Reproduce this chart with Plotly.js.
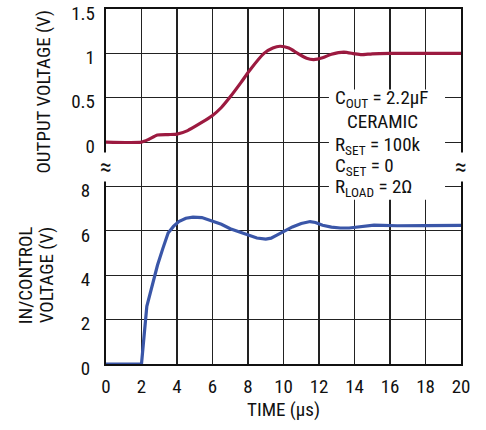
<!DOCTYPE html>
<html><head><meta charset="utf-8">
<script src="https://cdn.plot.ly/plotly-3.0.1.min.js"></script>
<style>html,body{margin:0;padding:0;background:#fff}</style>
</head><body><div id="chart" style="width:486px;height:430px"></div>
<script>
// Output voltage (top panel), time in µs
const outTime = [0, 2, 2.4, 2.9, 3.5, 4.0, 4.6, 5.3, 6.0, 6.5, 7.0, 7.6, 8.1, 8.9, 9.4, 9.8, 10.3, 10.8, 11.3, 11.7, 12.2, 12.7, 13.4, 14.0, 14.4, 15.0, 16, 17, 18, 19, 20];
const outVolt = [0, 0, 0.03, 0.08, 0.085, 0.09, 0.13, 0.21, 0.30, 0.39, 0.51, 0.67, 0.81, 1.0, 1.06, 1.08, 1.06, 1.0, 0.945, 0.93, 0.95, 0.99, 1.015, 0.995, 0.985, 0.995, 1.0, 1.0, 1.0, 1.0, 1.0];
// IN/CONTROL voltage (bottom panel)
const inTime = [0, 2.0, 2.3, 2.6, 2.9, 3.2, 3.5, 3.8, 4.1, 4.5, 4.9, 5.4, 6.0, 6.5, 7.0, 7.5, 8.0, 8.5, 9.0, 9.3, 9.6, 10.0, 10.5, 11.0, 11.5, 11.8, 12.2, 12.7, 13.2, 13.7, 14.1, 14.6, 15.1, 15.6, 16.4, 18, 20];
const inVolt = [0, 0, 2.6, 3.6, 4.45, 5.2, 5.9, 6.2, 6.42, 6.57, 6.62, 6.6, 6.45, 6.3, 6.1, 5.95, 5.8, 5.68, 5.63, 5.67, 5.8, 5.98, 6.18, 6.33, 6.42, 6.38, 6.25, 6.17, 6.13, 6.13, 6.16, 6.22, 6.26, 6.25, 6.23, 6.24, 6.25];
const xTicks = [0, 2, 4, 6, 8, 10, 12, 14, 16, 18, 20];
const outTicks = [0, 0.5, 1, 1.5];
const inTicks = [0, 2, 4, 6, 8];
const noteLines = ["C<sub>OUT</sub> = 2.2µF", "CERAMIC", "R<sub>SET</sub> = 100k", "C<sub>SET</sub> = 0", "R<sub>LOAD</sub> = 2Ω"];

const FONT = "'Liberation Sans Narrow', 'Roboto Condensed', 'DejaVu Sans Condensed', Arial, sans-serif";
const txt = {family: FONT, size: 19, color: '#111'};

const traces = [
  {x: inTime, y: inVolt, type: 'scatter', mode: 'lines', yaxis: 'y',
   line: {color: '#3A56A8', width: 3.2, shape: 'linear'}, hoverinfo: 'skip'},
  {x: outTime, y: outVolt, type: 'scatter', mode: 'lines', yaxis: 'y2',
   line: {color: '#9C1A40', width: 3.2, shape: 'spline', smoothing: 0.6}, hoverinfo: 'skip'}
];

// note positions in data units (x, bottom-axis y)
const noteX = [12.79, 15.58, 12.79, 12.79, 12.79];
const noteY = [11.95, 10.92, 9.85, 8.9, 7.95];
const noteAnchor = ['left', 'center', 'left', 'left', 'left'];

const annotations = noteLines.map((t, i) => ({
  xref: 'x', yref: 'y', x: noteX[i], y: noteY[i], text: t, showarrow: false,
  xanchor: noteAnchor[i], yanchor: 'middle', font: txt
}));
annotations.push(
  {xref: 'paper', yref: 'y', x: 0, y: 8.9, text: '≈', showarrow: false, xanchor: 'center', yanchor: 'middle',
   font: {family: FONT, size: 24, color: '#111'}, bgcolor: '#fff', borderpad: 0},
  {xref: 'paper', yref: 'y', x: 1, y: 8.9, text: '≈', showarrow: false, xanchor: 'center', yanchor: 'middle',
   font: {family: FONT, size: 24, color: '#111'}, bgcolor: '#fff', borderpad: 0},
  {xref: 'paper', yref: 'paper', x: -0.175, y: 0.767, text: 'OUTPUT VOLTAGE (V)', xanchor: 'center', yanchor: 'middle',
   textangle: -90, showarrow: false, font: txt},
  {xref: 'paper', yref: 'paper', x: -0.228, y: 0.25, text: 'IN/CONTROL', xanchor: 'center', yanchor: 'middle',
   textangle: -90, showarrow: false, font: txt},
  {xref: 'paper', yref: 'paper', x: -0.169, y: 0.25, text: 'VOLTAGE (V)', xanchor: 'center', yanchor: 'middle',
   textangle: -90, showarrow: false, font: txt}
);

const layout = {
  width: 486, height: 430,
  margin: {l: 106, r: 25, t: 9, b: 66},
  paper_bgcolor: '#fff', plot_bgcolor: '#fff',
  showlegend: false,
  font: txt,
  xaxis: {range: [0, 20], tickvals: xTicks, ticktext: xTicks.map(String),
    showgrid: true, gridcolor: '#222', gridwidth: 1.2, zeroline: false,
    showline: true, mirror: true, linecolor: '#111', linewidth: 2,
    ticks: '', ticklabelstandoff: 4, tickfont: txt, ticklabeloverflow: 'allow',
    title: {text: 'TIME (µs)', font: txt, standoff: 6}},
  yaxis: {range: [0, 16], tickvals: inTicks, ticktext: inTicks.map(String),
    showgrid: true, gridcolor: '#222', gridwidth: 1.2, zeroline: false,
    showline: true, mirror: true, linecolor: '#111', linewidth: 2,
    ticks: '', ticklabelstandoff: 10, ticklabelshift: 4, tickfont: txt, ticklabeloverflow: 'allow'},
  yaxis2: {range: [-2.5, 1.5], overlaying: 'y', side: 'left',
    tickvals: outTicks, ticktext: outTicks.map(String),
    showgrid: true, gridcolor: '#222', gridwidth: 1.2, zeroline: false,
    showline: false, ticks: '', ticklabelstandoff: 10, ticklabelshift: 4, tickfont: txt, ticklabeloverflow: 'allow'},
  shapes: [
    {type: 'rect', xref: 'x', yref: 'y', x0: 12.56, x1: 19.1, y0: 7.4, y1: 12.37,
     fillcolor: '#fff', line: {width: 0}, layer: 'above'}
  ],
  annotations: annotations
};

Plotly.newPlot('chart', traces, layout, {staticPlot: true, displayModeBar: false});
</script></body></html>
